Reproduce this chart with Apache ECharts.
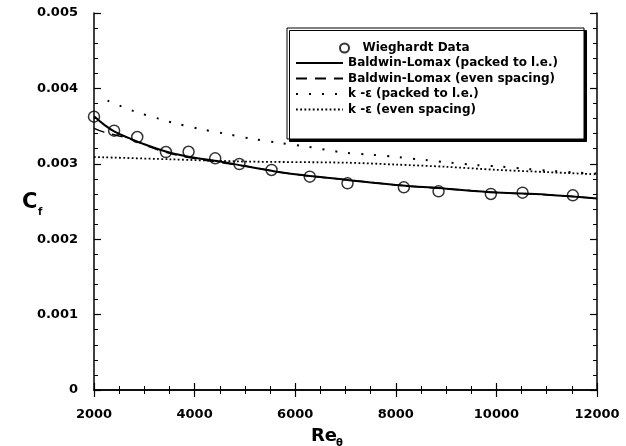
<!DOCTYPE html>
<html>
<head>
<meta charset="utf-8">
<script src="https://cdn.jsdelivr.net/npm/echarts@6/dist/echarts.min.js"></script>
<style>html,body{margin:0;padding:0;background:#fff}#c{width:626px;height:446px}</style>
</head>
<body>
<div id="c"></div>
<script>
// ---- data ----
const seriesNames = ['Wieghardt Data', 'Baldwin-Lomax (packed to l.e.)', 'Baldwin-Lomax (even spacing)', 'k -\u03b5 (packed to l.e.)', 'k -\u03b5 (even spacing)'];
const wieghardtRe = [2000, 2400, 2860, 3430, 3880, 4410, 4890, 5530, 6290, 7040, 8160, 8850, 9890, 10520, 11520];
const wieghardtCf = [0.003625, 0.003439, 0.003355, 0.003156, 0.00316, 0.003073, 0.002997, 0.002918, 0.002829, 0.002741, 0.002688, 0.002635, 0.0026, 0.002617, 0.002582];
const blPackedRe = [2000, 2200, 2400, 2700, 3000, 3500, 4000, 4500, 5000, 5500, 6000, 7000, 8000, 9000, 10000, 11000, 12000];
const blPackedCf = [0.00363, 0.00352, 0.00343, 0.00334, 0.00326, 0.00315, 0.00308, 0.00303, 0.00297, 0.00291, 0.00286, 0.00279, 0.00272, 0.00267, 0.00262, 0.00259, 0.00254];
const blEvenRe = [2000, 2200, 2500, 2800, 3000, 3500, 4000, 4500, 5000, 6000, 7000, 8000, 9000, 10000, 11000, 12000];
const blEvenCf = [0.00347, 0.00342, 0.00337, 0.00331, 0.00325, 0.00314, 0.00307, 0.00302, 0.00297, 0.00286, 0.00279, 0.00272, 0.00267, 0.00262, 0.00259, 0.00254];
const kePackedRe = [2270, 2800, 3330, 3610, 4110, 4640, 5160, 5700, 6240, 6990, 7510, 8040, 8580, 9080, 9580, 10090, 10610, 11100, 11620, 12000];
const kePackedCf = [0.003837, 0.003696, 0.00359, 0.003537, 0.003462, 0.003395, 0.003329, 0.003276, 0.003227, 0.003147, 0.003121, 0.00309, 0.00305, 0.003015, 0.002984, 0.002962, 0.002931, 0.002905, 0.002882, 0.00287];
const keEvenRe = [2000, 3500, 5000, 7000, 8000, 9000, 10000, 11000, 12000];
const keEvenCf = [0.00309, 0.00306, 0.00303, 0.003015, 0.00299, 0.00296, 0.00292, 0.00289, 0.00286];
const xTickLabels = ['2000', '4000', '6000', '8000', '10000', '12000'];
const yTickLabels = ['0', '0.001', '0.002', '0.003', '0.004', '0.005'];

const zip = (a, b) => a.map((v, i) => [v, b[i]]);
const FONT = 'DejaVu Sans';
const chart = echarts.init(document.getElementById('c'), null, {renderer: 'canvas'});

const axisCommon = {
  axisLine: {show: true, lineStyle: {color: '#000', width: 1.5}},
  axisTick: {show: true, inside: true, length: 7, lineStyle: {color: '#000', width: 1.2}},
  minorTick: {show: true, length: 4, lineStyle: {color: '#000', width: 1}},
  splitLine: {show: false}
};
const labelStyle = {color: '#000', fontFamily: FONT, fontWeight: 'bold', fontSize: 13};

chart.setOption({
  animation: false,
  backgroundColor: '#fff',
  grid: {left: 94, right: 29, top: 13, bottom: 56},
  xAxis: [
    Object.assign({type: 'value', min: 2000, max: 12000, interval: 2000, position: 'bottom',
      axisLabel: Object.assign({margin: 18, formatter: v => xTickLabels[Math.round((v - 2000) / 2000)]}, labelStyle)},
      axisCommon, {minorTick: Object.assign({}, axisCommon.minorTick, {splitNumber: 4})}),
    Object.assign({type: 'value', min: 2000, max: 12000, interval: 2000, position: 'top', axisLabel: {show: false}},
      axisCommon, {minorTick: Object.assign({}, axisCommon.minorTick, {splitNumber: 4})})
  ],
  yAxis: [
    Object.assign({type: 'value', min: 0, max: 0.005, interval: 0.001, position: 'left',
      axisLabel: Object.assign({margin: 16, formatter: v => yTickLabels[Math.round(v / 0.001)]}, labelStyle)},
      axisCommon, {minorTick: Object.assign({}, axisCommon.minorTick, {splitNumber: 5})}),
    Object.assign({type: 'value', min: 0, max: 0.005, interval: 0.001, position: 'right', axisLabel: {show: false}},
      axisCommon, {minorTick: Object.assign({}, axisCommon.minorTick, {splitNumber: 5})})
  ],
  legend: [
    {
      data: [{name: seriesNames[0], icon: 'circle'}],
      left: 334, top: 37, itemWidth: 26, itemHeight: 9, z: 10,
      textStyle: {color: '#000', fontFamily: FONT, fontWeight: 'bold', fontSize: 12}
    },
    {
      data: seriesNames.slice(1),
      orient: 'vertical', left: 290, top: 52, itemWidth: 47, itemHeight: 11, itemGap: 3.5, z: 10,
      itemStyle: {color: 'rgba(0,0,0,0)', borderWidth: 0, opacity: 0},
      textStyle: {color: '#000', fontFamily: FONT, fontWeight: 'bold', fontSize: 12}
    }
  ],
  graphic: [
    {type: 'rect', z: 5, shape: {x: 287, y: 28, width: 297, height: 111},
      style: {fill: '#fff', stroke: '#000', lineWidth: 1, shadowColor: '#000', shadowOffsetX: 2.5, shadowOffsetY: 2.5, shadowBlur: 0}},
    {type: 'text', z: 10, left: 22, top: 192, style: {text: 'C', font: 'bold 21px ' + FONT, fill: '#000'}},
    {type: 'text', z: 10, left: 38, top: 207, style: {text: 'f', font: 'bold 10px ' + FONT, fill: '#000'}},
    {type: 'text', z: 10, left: 311, top: 427, style: {text: 'Re', font: 'bold 18px ' + FONT, fill: '#000'}},
    {type: 'text', z: 10, left: 336, top: 438, style: {text: '\u03b8', font: 'bold 10px ' + FONT, fill: '#000'}}
  ],
  series: [
    {name: seriesNames[0], type: 'scatter', data: zip(wieghardtRe, wieghardtCf), symbol: 'circle', symbolSize: 11, z: 4,
      itemStyle: {color: 'rgba(255,255,255,0)', borderColor: '#000', borderWidth: 1.5}},
    {name: seriesNames[1], type: 'line', data: zip(blPackedRe, blPackedCf), smooth: 0.4, symbol: 'none', z: 3,
      lineStyle: {color: '#000', width: 2, type: 'solid'}, itemStyle: {color: '#000'}},
    {name: seriesNames[2], type: 'line', data: zip(blEvenRe, blEvenCf), smooth: 0.4, symbol: 'none', z: 3,
      lineStyle: {color: '#000', width: 1.5, type: [11, 8]}, itemStyle: {color: '#000'}},
    {name: seriesNames[3], type: 'line', data: zip(kePackedRe, kePackedCf), smooth: 0.3, symbol: 'none', z: 3,
      lineStyle: {color: '#000', width: 2, type: [2, 11]}, itemStyle: {color: '#000'}},
    {name: seriesNames[4], type: 'line', data: zip(keEvenRe, keEvenCf), smooth: 0.3, symbol: 'none', z: 3,
      lineStyle: {color: '#000', width: 1.8, type: [1.8, 2.4]}, itemStyle: {color: '#000'}}
  ]
});
</script>
</body>
</html>
